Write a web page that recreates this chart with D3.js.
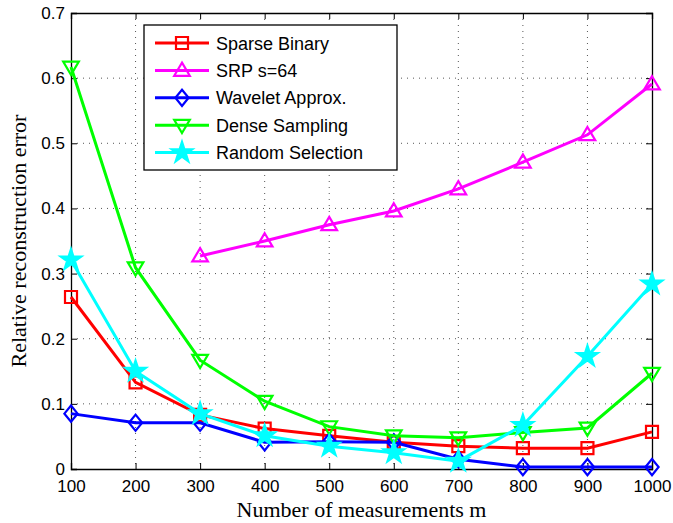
<!DOCTYPE html>
<html>
<head>
<meta charset="utf-8">
<script src="https://cdn.jsdelivr.net/npm/d3@7"></script>
<style>
  body { margin: 0; background: #fff; }
  .tick text { font-family: Arial, "Liberation Sans", sans-serif; font-size: 17px; fill: #000; }
</style>
</head>
<body>
<div id="chart"></div>
<script>
// measurements m
const mValues = [100, 200, 300, 400, 500, 600, 700, 800, 900, 1000]

const sparseBinary = [0.264, 0.133, 0.083, 0.062, 0.051, 0.041, 0.035, 0.032, 0.032, 0.057]
// SRP starts at m = 300
const srpM = [300, 400, 500, 600, 700, 800, 900, 1000]
const srp64 = [0.327, 0.350, 0.375, 0.396, 0.430, 0.471, 0.513, 0.591]
const waveletApprox = [0.085, 0.071, 0.071, 0.041, 0.042, 0.041, 0.015, 0.003, 0.003, 0.003]
const denseSampling = [0.617, 0.309, 0.167, 0.104, 0.065, 0.051, 0.048, 0.056, 0.063, 0.147]
const randomSelection = [0.321, 0.150, 0.085, 0.051, 0.035, 0.025, 0.012, 0.067, 0.173, 0.284]

const yTicks = [0, 0.1, 0.2, 0.3, 0.4, 0.5, 0.6, 0.7]

const series = [
  {name: 'Sparse Binary', x: mValues, y: sparseBinary, color: '#ff0000', marker: 'square'},
  {name: 'SRP s=64', x: srpM, y: srp64, color: '#ff00ff', marker: 'triangleUp'},
  {name: 'Wavelet Approx.', x: mValues, y: waveletApprox, color: '#0000ff', marker: 'diamond'},
  {name: 'Dense Sampling', x: mValues, y: denseSampling, color: '#00ff00', marker: 'triangleDown'},
  {name: 'Random Selection', x: mValues, y: randomSelection, color: '#00ffff', marker: 'star'}
]

const width = 673, height = 523
const margin = {top: 13, right: 21, bottom: 54, left: 71}
const innerW = width - margin.left - margin.right
const innerH = height - margin.top - margin.bottom

const svg = d3.select('#chart').append('svg')
  .attr('width', width)
  .attr('height', height)

const g = svg.append('g')
  .attr('transform', `translate(${margin.left},${margin.top})`)

const x = d3.scaleLinear().domain([100, 1000]).range([0, innerW])
const y = d3.scaleLinear().domain([0, 0.7]).range([innerH, 0])

// dotted grid
g.append('g').selectAll('line')
  .data(mValues.slice(1, -1))
  .enter().append('line')
  .attr('x1', d => x(d)).attr('x2', d => x(d))
  .attr('y1', 0).attr('y2', innerH)
  .attr('stroke', '#555').attr('stroke-width', 1)
  .attr('stroke-dasharray', '1,5')

g.append('g').selectAll('line')
  .data(yTicks.slice(1, -1))
  .enter().append('line')
  .attr('y1', d => y(d)).attr('y2', d => y(d))
  .attr('x1', 0).attr('x2', innerW)
  .attr('stroke', '#555').attr('stroke-width', 1)
  .attr('stroke-dasharray', '1,5')

// axes with inward ticks
g.append('g')
  .attr('transform', `translate(0,${innerH})`)
  .call(d3.axisBottom(x).tickValues(mValues).tickSize(-6).tickPadding(11).tickFormat(d3.format('d')))
g.append('g')
  .call(d3.axisLeft(y).tickValues(yTicks).tickSize(-6).tickPadding(6).tickFormat(d => d === 0 ? '0' : d3.format('.1f')(d)))
g.append('g')
  .call(d3.axisTop(x).tickValues(mValues).tickSize(-6).tickFormat(''))
g.append('g')
  .attr('transform', `translate(${innerW},0)`)
  .call(d3.axisRight(y).tickValues(yTicks).tickSize(-6).tickFormat(''))

g.selectAll('.domain').attr('stroke', '#000').attr('stroke-width', 1.3)
g.selectAll('.tick line').attr('stroke', '#000')

// marker shapes
function markerPath(type, s) {
  if (type === 'square') return `M${-s},${-s}H${s}V${s}H${-s}Z`
  if (type === 'diamond') return `M0,${-s * 1.35}L${s * 1.1},0L0,${s * 1.35}L${-s * 1.1},0Z`
  if (type === 'triangleUp') return `M0,${-s * 1.3}L${s * 1.3},${s * 0.9}L${-s * 1.3},${s * 0.9}Z`
  if (type === 'triangleDown') return `M0,${s * 1.3}L${s * 1.3},${-s * 0.9}L${-s * 1.3},${-s * 0.9}Z`
  if (type === 'star') return d3.symbol(d3.symbolStar, 130)()
}

function drawMarker(sel, d, color) {
  return sel.append('path')
    .attr('d', markerPath(d, 6))
    .attr('stroke', color)
    .attr('stroke-width', 2.2)
    .attr('stroke-linejoin', 'miter')
    .attr('fill', d === 'star' ? color : 'none')
}

const line = d3.line()
  .x(d => x(d[0]))
  .y(d => y(d[1]))

series.forEach(s => {
  const pts = s.x.map((v, i) => [v, s.y[i]])
  g.append('path')
    .datum(pts)
    .attr('d', line)
    .attr('fill', 'none')
    .attr('stroke', s.color)
    .attr('stroke-width', 3)

  pts.forEach(p => {
    const mg = g.append('g').attr('transform', `translate(${x(p[0])},${y(p[1])})`)
    drawMarker(mg, s.marker, s.color)
  })
})

// legend
const legend = svg.append('g').attr('transform', 'translate(144,25)')
legend.append('rect')
  .attr('width', 253).attr('height', 145)
  .attr('fill', '#fff').attr('stroke', '#000').attr('stroke-width', 1.3)

series.forEach((s, i) => {
  const row = legend.append('g').attr('transform', `translate(0,${18 + i * 27.4})`)
  row.append('line')
    .attr('x1', 11).attr('x2', 65)
    .attr('stroke', s.color).attr('stroke-width', 3)
  const mg = row.append('g').attr('transform', 'translate(38,0)')
  drawMarker(mg, s.marker, s.color)
  row.append('text')
    .attr('x', 72).attr('y', 6.5)
    .attr('font-family', 'Arial, "Liberation Sans", sans-serif')
    .attr('font-size', 18)
    .text(s.name)
})

// axis titles
svg.append('text')
  .attr('x', margin.left + innerW / 2)
  .attr('y', 517)
  .attr('text-anchor', 'middle')
  .attr('font-family', '"Liberation Serif", "Times New Roman", serif')
  .attr('font-size', 22)
  .text('Number of measurements m')

svg.append('text')
  .attr('transform', `translate(26,${margin.top + innerH / 2}) rotate(-90)`)
  .attr('text-anchor', 'middle')
  .attr('font-family', '"Liberation Serif", "Times New Roman", serif')
  .attr('font-size', 22)
  .text('Relative reconstruction error')
</script>
</body>
</html>
